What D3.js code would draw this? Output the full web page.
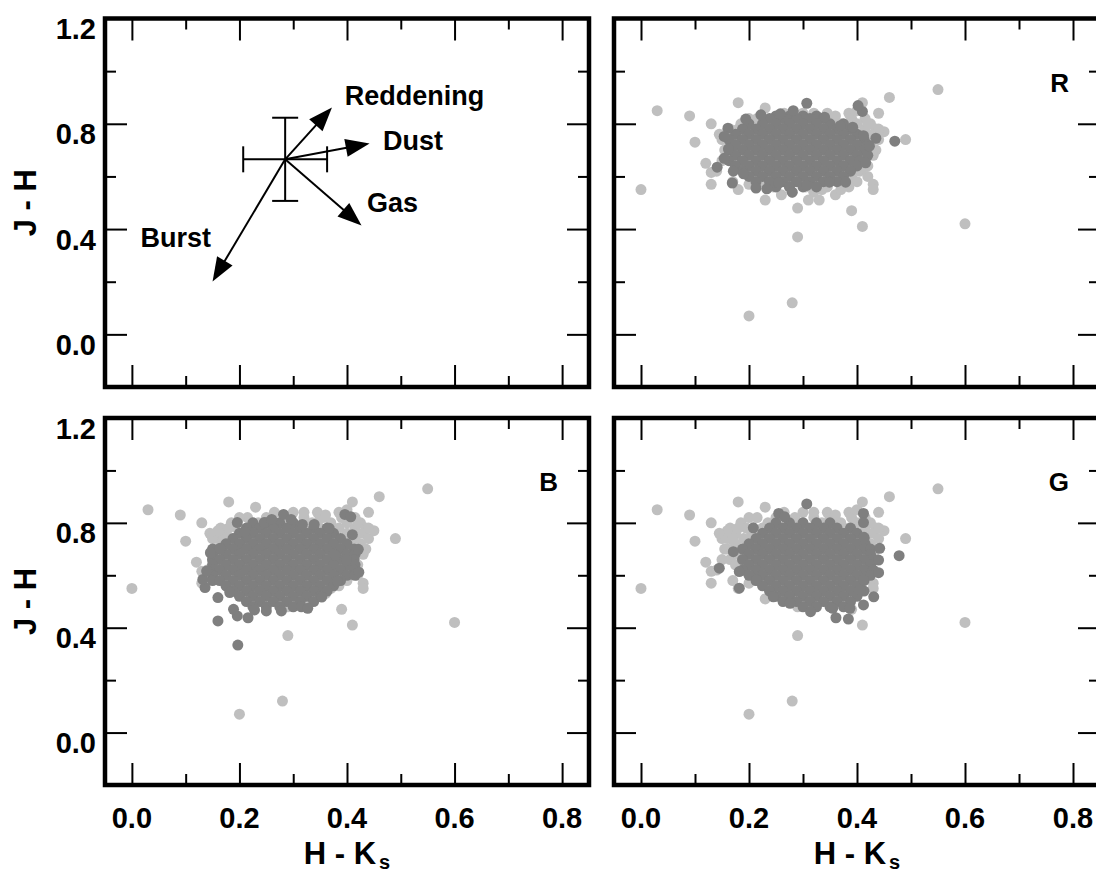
<!DOCTYPE html>
<html><head><meta charset="utf-8">
<script src="https://cdn.jsdelivr.net/npm/d3@7"></script>
<style>
body{margin:0;background:#fff}
svg{display:block}
text{font-family:"Liberation Sans",Arial,Helvetica,sans-serif;font-weight:bold;fill:#000}
</style>
</head><body>
<svg id="c" width="1096" height="874"></svg>
<script>
// ---------- axes ----------
const xDomain = [-0.05, 0.85];
const yDomain = [-0.2, 1.2];
const xTicksMajor = [0.0, 0.2, 0.4, 0.6, 0.8];
const xTicksMinor = [0.1, 0.3, 0.5, 0.7];
const yTicksMajor = [0.0, 0.4, 0.8, 1.2];
const yTicksMinor = [0.2, 0.6, 1.0];
const xTitle = "H - K";
const xTitleSub = "s";
const yTitle = "J - H";

// ---------- diagram panel (top left) ----------
const errCenter = [0.285, 0.665];
const errHalf = [0.078, 0.158];
const vecNames = ["Reddening", "Dust", "Gas", "Burst"];
const vecTips = [[0.372, 0.862], [0.442, 0.725], [0.427, 0.414], [0.150, 0.201]];
const vecLabelPos = [[0.396, 0.873], [0.467, 0.702], [0.437, 0.463], [0.016, 0.330]];

// ---------- full sample (light grey), same in every panel ----------
const lightOutliers = [
 [0.00,0.55],[0.03,0.85],[0.09,0.83],[0.10,0.73],[0.13,0.80],[0.12,0.65],[0.13,0.615],[0.13,0.57],
 [0.18,0.88],[0.18,0.55],[0.20,0.07],[0.28,0.12],[0.29,0.37],[0.29,0.48],[0.26,0.53],[0.23,0.51],
 [0.31,0.51],[0.33,0.51],[0.36,0.53],[0.39,0.47],[0.41,0.41],[0.43,0.57],[0.43,0.55],[0.60,0.42],
 [0.55,0.93],[0.46,0.90],[0.44,0.84],[0.41,0.88],[0.49,0.74],[0.45,0.77],[0.44,0.78],[0.23,0.86],
 [0.20,0.57],[0.37,0.55],[0.335,0.55],[0.42,0.80],[0.43,0.68],[0.41,0.63],[0.15,0.74],[0.18,0.78],
 [0.20,0.82],[0.16,0.77],[0.17,0.735],[0.16,0.70],[0.32,0.84],[0.35,0.82],[0.36,0.83],[0.40,0.85],
 [0.14,0.62],[0.17,0.58],[0.145,0.76],[0.15,0.66]
];
// rows: [J-H, [H-Ks values]]
const lightRows = [
 [0.84,[0.265,0.30,0.345,0.385]],
 [0.82,[0.215,0.25,0.285,0.32,0.355,0.39,0.415]],
 [0.80,[0.185,0.235,0.27,0.30,0.335,0.37,0.40,0.425]],
 [0.78,[0.165,0.195,0.225,0.25,0.285,0.32,0.35,0.385,0.415,0.435]],
 [0.76,[0.175,0.205,0.235,0.265,0.30,0.335,0.365,0.40,0.43]],
 [0.74,[0.16,0.19,0.22,0.25,0.285,0.315,0.35,0.38,0.415,0.44]],
 [0.72,[0.175,0.205,0.235,0.265,0.30,0.33,0.365,0.395,0.425]],
 [0.70,[0.155,0.19,0.22,0.25,0.28,0.315,0.345,0.38,0.41,0.435]],
 [0.68,[0.175,0.205,0.235,0.265,0.295,0.33,0.36,0.395,0.42]],
 [0.66,[0.165,0.19,0.22,0.25,0.28,0.31,0.345,0.375,0.405]],
 [0.64,[0.175,0.205,0.235,0.265,0.295,0.325,0.36,0.39,0.42]],
 [0.62,[0.19,0.22,0.25,0.28,0.31,0.34,0.375,0.405]],
 [0.60,[0.205,0.235,0.265,0.295,0.325,0.355,0.39,0.42]],
 [0.58,[0.22,0.25,0.28,0.31,0.34,0.37,0.40]],
 [0.56,[0.245,0.275,0.305,0.345,0.385]],
 [0.54,[0.28,0.32]]
];

// ---------- subsets (dark grey) ----------
const darkRRows = [
 [0.83,[0.25,0.275,0.30,0.325]],
 [0.82,[0.238,0.263,0.288,0.313,0.338]],
 [0.80,[0.20,0.225,0.25,0.275,0.30,0.325,0.35,0.375]],
 [0.78,[0.188,0.213,0.238,0.263,0.288,0.313,0.338,0.363,0.388]],
 [0.76,[0.175,0.20,0.225,0.25,0.275,0.30,0.325,0.35,0.375,0.40]],
 [0.74,[0.163,0.188,0.213,0.238,0.263,0.288,0.313,0.338,0.363,0.388,0.413]],
 [0.72,[0.175,0.20,0.225,0.25,0.275,0.30,0.325,0.35,0.375,0.40,0.42]],
 [0.70,[0.163,0.188,0.213,0.238,0.263,0.288,0.313,0.338,0.363,0.388,0.413]],
 [0.68,[0.175,0.20,0.225,0.25,0.275,0.30,0.325,0.35,0.375,0.40,0.42]],
 [0.66,[0.163,0.188,0.213,0.238,0.263,0.288,0.313,0.338,0.363,0.388,0.405]],
 [0.64,[0.175,0.20,0.225,0.25,0.275,0.30,0.325,0.35,0.375,0.40]],
 [0.62,[0.188,0.213,0.238,0.263,0.288,0.313,0.338,0.363,0.388]],
 [0.60,[0.20,0.225,0.25,0.275,0.30,0.325,0.35,0.375]],
 [0.58,[0.213,0.238,0.263,0.288,0.313,0.338,0.363]],
 [0.56,[0.25,0.275,0.30,0.325]]
];
const darkREdge = [
 [0.307,0.878],[0.282,0.850],[0.258,0.838],[0.222,0.834],[0.194,0.818],[0.161,0.783],[0.154,0.752],
 [0.162,0.705],[0.154,0.669],[0.141,0.635],[0.169,0.575],[0.213,0.556],[0.233,0.553],[0.280,0.540],
 [0.307,0.566],[0.349,0.578],[0.379,0.578],[0.416,0.652],[0.435,0.745],[0.470,0.734],[0.410,0.847],
 [0.402,0.869],[0.392,0.787],[0.369,0.793],[0.340,0.825],[0.412,0.755],[0.423,0.715],[0.171,0.620],
 [0.190,0.610],[0.255,0.575]
];
const darkBRows = [
 [0.80,[0.225,0.25,0.275,0.30]],
 [0.78,[0.213,0.238,0.263,0.288,0.313,0.338,0.363]],
 [0.76,[0.20,0.225,0.25,0.275,0.30,0.325,0.35,0.375]],
 [0.74,[0.188,0.213,0.238,0.263,0.288,0.313,0.338,0.363,0.388]],
 [0.72,[0.175,0.20,0.225,0.25,0.275,0.30,0.325,0.35,0.375,0.40]],
 [0.70,[0.15,0.163,0.188,0.213,0.238,0.263,0.288,0.313,0.338,0.363,0.388,0.413]],
 [0.68,[0.15,0.175,0.20,0.225,0.25,0.275,0.30,0.325,0.35,0.375,0.40,0.415]],
 [0.66,[0.15,0.163,0.188,0.213,0.238,0.263,0.288,0.313,0.338,0.363,0.388,0.413]],
 [0.64,[0.15,0.175,0.20,0.225,0.25,0.275,0.30,0.325,0.35,0.375,0.40,0.415]],
 [0.62,[0.15,0.163,0.188,0.213,0.238,0.263,0.288,0.313,0.338,0.363,0.388,0.413]],
 [0.60,[0.15,0.175,0.20,0.225,0.25,0.275,0.30,0.325,0.35,0.375,0.40,0.415]],
 [0.58,[0.15,0.163,0.188,0.213,0.238,0.263,0.288,0.313,0.338,0.363,0.388]],
 [0.56,[0.175,0.20,0.225,0.25,0.275,0.30,0.325,0.35,0.375]],
 [0.54,[0.188,0.213,0.238,0.263,0.288,0.313,0.338,0.363]],
 [0.52,[0.20,0.225,0.25,0.275,0.30,0.325,0.35]],
 [0.50,[0.213,0.238,0.263,0.288,0.313,0.338]],
 [0.48,[0.225,0.25,0.275,0.30,0.315]]
];
const darkBEdge = [
 [0.197,0.334],[0.160,0.426],[0.196,0.445],[0.216,0.438],[0.189,0.470],[0.228,0.468],[0.250,0.464],
 [0.278,0.464],[0.327,0.474],[0.353,0.517],[0.136,0.553],[0.132,0.584],[0.139,0.616],[0.146,0.686],
 [0.164,0.703],[0.196,0.801],[0.210,0.766],[0.246,0.801],[0.260,0.813],[0.282,0.832],[0.296,0.813],
 [0.317,0.794],[0.339,0.794],[0.367,0.779],[0.396,0.832],[0.407,0.823],[0.410,0.755],[0.421,0.699],
 [0.422,0.612],[0.399,0.658],[0.382,0.578],[0.378,0.676],[0.160,0.515],[0.182,0.534]
];
const darkGRows = [
 [0.80,[0.25,0.275,0.30,0.325,0.35]],
 [0.78,[0.238,0.263,0.288,0.313,0.338,0.363,0.388]],
 [0.76,[0.225,0.25,0.275,0.30,0.325,0.35,0.375,0.40]],
 [0.74,[0.213,0.238,0.263,0.288,0.313,0.338,0.363,0.388,0.413]],
 [0.72,[0.20,0.225,0.25,0.275,0.30,0.325,0.35,0.375,0.40,0.415]],
 [0.70,[0.188,0.213,0.238,0.263,0.288,0.313,0.338,0.363,0.388,0.413,0.425]],
 [0.68,[0.20,0.225,0.25,0.275,0.30,0.325,0.35,0.375,0.40,0.425]],
 [0.66,[0.188,0.213,0.238,0.263,0.288,0.313,0.338,0.363,0.388,0.413,0.43]],
 [0.64,[0.20,0.225,0.25,0.275,0.30,0.325,0.35,0.375,0.40,0.425]],
 [0.62,[0.188,0.213,0.238,0.263,0.288,0.313,0.338,0.363,0.388,0.413,0.43]],
 [0.60,[0.20,0.225,0.25,0.275,0.30,0.325,0.35,0.375,0.40,0.425]],
 [0.58,[0.213,0.238,0.263,0.288,0.313,0.338,0.363,0.388,0.413]],
 [0.56,[0.225,0.25,0.275,0.30,0.325,0.35,0.375,0.40]],
 [0.54,[0.238,0.263,0.288,0.313,0.338,0.363,0.388,0.413]],
 [0.52,[0.25,0.275,0.30,0.325,0.35,0.375,0.40]],
 [0.50,[0.263,0.288,0.313,0.338,0.363,0.388]],
 [0.48,[0.30,0.325,0.35,0.375]]
];
const darkGEdge = [
 [0.307,0.872],[0.255,0.836],[0.266,0.823],[0.208,0.781],[0.171,0.690],[0.145,0.627],[0.182,0.614],
 [0.182,0.551],[0.214,0.582],[0.245,0.518],[0.276,0.493],[0.314,0.461],[0.355,0.474],[0.361,0.438],
 [0.384,0.433],[0.387,0.474],[0.412,0.487],[0.431,0.518],[0.440,0.610],[0.440,0.658],[0.442,0.703],
 [0.478,0.675],[0.412,0.836],[0.412,0.801],[0.413,0.745],[0.406,0.545],[0.412,0.582]
];

// ---------- build ----------
const expandRows = rows => rows.flatMap(([yv, xs]) => xs.map(xv => [xv, yv]));
const lightAll = expandRows(lightRows).concat(lightOutliers);
const darkR = expandRows(darkRRows).concat(darkREdge);
const darkB = expandRows(darkBRows).concat(darkBEdge);
const darkG = expandRows(darkGRows).concat(darkGEdge);

const LIGHT = "#bfbfbf", DARK = "#7f7f7f";
const R = 5.5;
const colX = [[105, 589], [614, 1100]];
const rowY = [[18.5, 387], [418, 785]];
const panels = [
  {col:0,row:0,label:null,dark:null},
  {col:1,row:0,label:"R",dark:darkR},
  {col:0,row:1,label:"B",dark:darkB},
  {col:1,row:1,label:"G",dark:darkG}
];

const svg = d3.select("#c");
const fmt = d3.format(".1f");

panels.forEach(p => {
  const x = d3.scaleLinear().domain(xDomain).range(colX[p.col]);
  const y = d3.scaleLinear().domain(yDomain).range([rowY[p.row][1], rowY[p.row][0]]);
  const g = svg.append("g");
  const [x0, x1] = colX[p.col];
  const [y0, y1] = rowY[p.row];

  if (p.dark) {
    g.append("g").selectAll("circle").data(lightAll).join("circle")
      .attr("cx", d => x(d[0])).attr("cy", d => y(d[1])).attr("r", R).attr("fill", LIGHT);
    g.append("g").selectAll("circle").data(p.dark).join("circle")
      .attr("cx", d => x(d[0])).attr("cy", d => y(d[1])).attr("r", R).attr("fill", DARK);
    g.append("text").attr("x", x(0.85) - 31).attr("y", y0 + 73)
      .attr("text-anchor", "end").attr("font-size", 26).text(p.label);
  } else {
    const cx = x(errCenter[0]), cy = y(errCenter[1]);
    const xa = x(errCenter[0] - errHalf[0]), xb = x(errCenter[0] + errHalf[0]);
    const ya = y(errCenter[1] + errHalf[1]), yb = y(errCenter[1] - errHalf[1]);
    const cap = 13;
    const segs = [
      [xa, cy, xb, cy], [cx, ya, cx, yb],
      [xa, cy - cap, xa, cy + cap], [xb, cy - cap, xb, cy + cap],
      [cx - cap, ya, cx + cap, ya], [cx - cap, yb, cx + cap, yb]
    ];
    g.append("g").selectAll("line").data(segs).join("line")
      .attr("x1", d => d[0]).attr("y1", d => d[1]).attr("x2", d => d[2]).attr("y2", d => d[3])
      .attr("stroke", "#000").attr("stroke-width", 2);
    const L = 24, W = 9;
    vecTips.forEach((t, i) => {
      const tx = x(t[0]), ty = y(t[1]);
      const dx = tx - cx, dy = ty - cy, len = Math.hypot(dx, dy);
      const ux = dx / len, uy = dy / len;
      const bx = tx - ux * L, by = ty - uy * L;
      g.append("line").attr("x1", cx).attr("y1", cy).attr("x2", bx + ux * 2).attr("y2", by + uy * 2)
        .attr("stroke", "#000").attr("stroke-width", 2);
      g.append("path")
        .attr("d", `M${tx},${ty}L${bx - uy * W},${by + ux * W}L${bx + uy * W},${by - ux * W}Z`)
        .attr("fill", "#000");
      g.append("text").attr("x", x(vecLabelPos[i][0])).attr("y", y(vecLabelPos[i][1]))
        .attr("font-size", 27).text(vecNames[i]);
    });
  }

  const tick = (axis, tx, ty) => {
    const a = g.append("g").attr("transform", `translate(${tx},${ty})`).call(axis);
    a.select(".domain").remove();
    a.selectAll("text").remove();
    a.selectAll("line").attr("stroke", "#000").attr("stroke-width", 2);
  };
  const MJ = 22, MN = 11;
  const xr = Math.min(x1, 1095.5);
  tick(d3.axisBottom(x).tickValues(xTicksMajor).tickSize(-MJ), 0, y1);
  tick(d3.axisBottom(x).tickValues(xTicksMinor).tickSize(-MN), 0, y1);
  tick(d3.axisTop(x).tickValues(xTicksMajor).tickSize(-MJ), 0, y0);
  tick(d3.axisTop(x).tickValues(xTicksMinor).tickSize(-MN), 0, y0);
  tick(d3.axisLeft(y).tickValues(yTicksMajor).tickSize(-MJ), x0, 0);
  tick(d3.axisLeft(y).tickValues(yTicksMinor).tickSize(-MN), x0, 0);
  tick(d3.axisRight(y).tickValues(yTicksMajor).tickSize(-MJ), x1, 0);
  tick(d3.axisRight(y).tickValues(yTicksMinor).tickSize(-MN), x1, 0);

  g.append("rect").attr("x", x0).attr("y", y0).attr("width", x1 - x0).attr("height", y1 - y0)
    .attr("fill", "none").attr("stroke", "#000").attr("stroke-width", 4.5);

  if (p.col === 0) {
    g.append("g").selectAll("text").data(yTicksMajor).join("text")
      .attr("x", x0 - 9).attr("y", d => y(d) + 20.5)
      .attr("text-anchor", "end").attr("font-size", 29).text(d => fmt(d));
    g.append("text")
      .attr("transform", `translate(36,${(y0 + y1) / 2}) rotate(-90)`)
      .attr("text-anchor", "middle").attr("font-size", 31).text(yTitle);
  }
  if (p.row === 1) {
    g.append("g").selectAll("text").data(xTicksMajor).join("text")
      .attr("x", d => x(d)).attr("y", y1 + 43)
      .attr("text-anchor", "middle").attr("font-size", 29).text(d => fmt(d));
    const t = g.append("text").attr("x", (x0 + x1) / 2).attr("y", y1 + 79)
      .attr("text-anchor", "middle").attr("font-size", 31);
    t.append("tspan").text(xTitle);
    t.append("tspan").attr("font-size", 20).attr("dx", 3).attr("dy", 5).text(xTitleSub);
  }
});
</script>
</body></html>
